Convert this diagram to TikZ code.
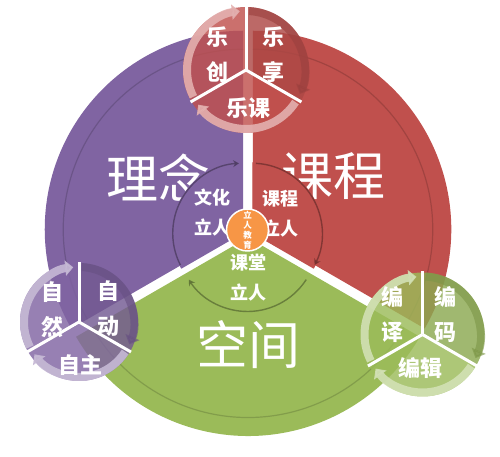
\documentclass[tikz,border=0pt]{standalone}
\usepackage{fontspec}
\newfontfamily\cjk{Noto Sans CJK SC}
\usetikzlibrary{arrows.meta}
\definecolor{cpur}{HTML}{8064A2}
\definecolor{cred}{HTML}{C0504D}
\definecolor{cgrn}{HTML}{9BBB59}
\definecolor{corg}{HTML}{F79646}
\tikzset{
  bigtxt/.style={text=white,font=\cjk\fontsize{52}{60}\selectfont,inner sep=0pt},
  midtxt/.style={text=white,font=\cjk\bfseries\fontsize{18}{30}\selectfont,inner sep=0pt,align=center},
  smtxt/.style={text=white,font=\cjk\bfseries\fontsize{22}{35}\selectfont,inner sep=0pt,align=center},
  orgtxt/.style={text=white,font=\cjk\bfseries\fontsize{8.5}{10}\selectfont,inner sep=0pt,align=center},
  groove/.style={line width=1.2pt,opacity=0.45},
  inedge/.style={line width=1.4pt,opacity=0.8,-{Stealth[length=6pt,width=7pt]}},
  ringarc/.style={line width=8pt,-{Triangle[width=15pt,length=8pt]}},
  sep/.style={white,line width=3pt},
}
\newcommand\wedgefill[6]{% style, cx, cy, r, start, end
  \fill[#1] (#2,#3) -- ++(#5:#4) arc[start angle=#5,end angle=#6,radius=#4] -- cycle;}
\newcommand\wheel[4]{% cx, cy, r, color
  \wedgefill{#4,fill opacity=0.82}{#1}{#2}{#3}{90}{210}
  \wedgefill{#4!90!black,fill opacity=0.82}{#1}{#2}{#3}{-30}{90}
  \wedgefill{#4,fill opacity=0.82}{#1}{#2}{#3}{210}{330}
  \draw[ringarc,#4!45!white,opacity=0.9] (#1,#2) ++(207:{#3-4}) arc[start angle=207,end angle=96,radius={#3-4}];
  \draw[ringarc,#4!80!black,opacity=0.6] (#1,#2) ++(87:{#3-4}) arc[start angle=87,end angle=-24,radius={#3-4}];
  \draw[ringarc,#4!45!white,opacity=0.9] (#1,#2) ++(-33:{#3-4}) arc[start angle=-33,end angle=-144,radius={#3-4}];
  \draw[sep] (#1,#2) -- ++(90:{#3+1});
  \draw[sep] (#1,#2) -- ++(210:{#3+1});
  \draw[sep] (#1,#2) -- ++(330:{#3+1});
}
\begin{document}
\begin{tikzpicture}[x=1pt,y=1pt]
\useasboundingbox (0,0) rectangle (500,457);
% big sectors (centre 248,225; offset 5.5)
\wedgefill{cpur}{243.24}{227.75}{198.5}{90}{210}
\wedgefill{cred}{252.76}{227.75}{198.5}{-30}{90}
\wedgefill{cgrn}{248}{219.5}{198.5}{210}{330}
% grooves
\draw[groove,cpur!65!black] (243.24,227.75) ++(210:180) arc[start angle=210,end angle=90,radius=180];
\draw[groove,cred!65!black] (252.76,227.75) ++(90:180) arc[start angle=90,end angle=-30,radius=180];
\draw[groove,cgrn!65!black] (248,219.5) ++(330:180) arc[start angle=330,end angle=210,radius=180];
% big texts
\node[bigtxt] (lini) at (158,279) {理念};
\node[bigtxt] (kecheng) at (333,281) {课程};
\node[bigtxt] (kongjian) at (248,112) {空间};
% inner sectors (centre 247.5,221)
\wedgefill{cpur}{242.74}{223.75}{71}{90}{210}
\wedgefill{cred}{252.26}{223.75}{71}{-30}{90}
\wedgefill{cgrn}{247.5}{215.5}{71}{210}{330}
\draw[inedge,cpur!60!black] (242.74,223.75) ++(207:70) arc[start angle=207,end angle=93,radius=70];
\draw[inedge,cred!60!black] (252.26,223.75) ++(87:70) arc[start angle=87,end angle=-27,radius=70];
\draw[inedge,cgrn!60!black] (247.5,215.5) ++(-33:70) arc[start angle=-33,end angle=-147,radius=70];
\node[midtxt] (wenhua) at (212,244) {文化\\立人};
\node[midtxt] (kcli) at (280,243) {课程\\立人};
\node[midtxt] (ketang) at (248,179) {课堂\\立人};
% core
\node[circle,fill=corg,draw=white,line width=1.5pt,minimum size=42pt,inner sep=0pt] (core) at (247.5,227) {};
\node[orgtxt] (coretxt) at (core) {立\\人\\教\\育};
% small wheels
\wheel{246}{387}{63}{cred}
\wheel{79}{135}{59}{cpur}
\wheel{422.5}{122.5}{62}{cgrn}
\node[smtxt] (lechuang) at (217,402.5) {乐\\创};
\node[smtxt] (lexiang) at (273,402.5) {乐\\享};
\node[smtxt] (leke) at (248,349) {乐课};
\node[smtxt] (ziran) at (52,147) {自\\然};
\node[smtxt] (zidong) at (108,148) {自\\动};
\node[smtxt] (zizhu) at (80,92) {自主};
\node[smtxt] (bianyi) at (392,142) {编\\译};
\node[smtxt] (bianma) at (445,142) {编\\码};
\node[smtxt] (bianji) at (420,89) {编辑};
\end{tikzpicture}
\end{document}
